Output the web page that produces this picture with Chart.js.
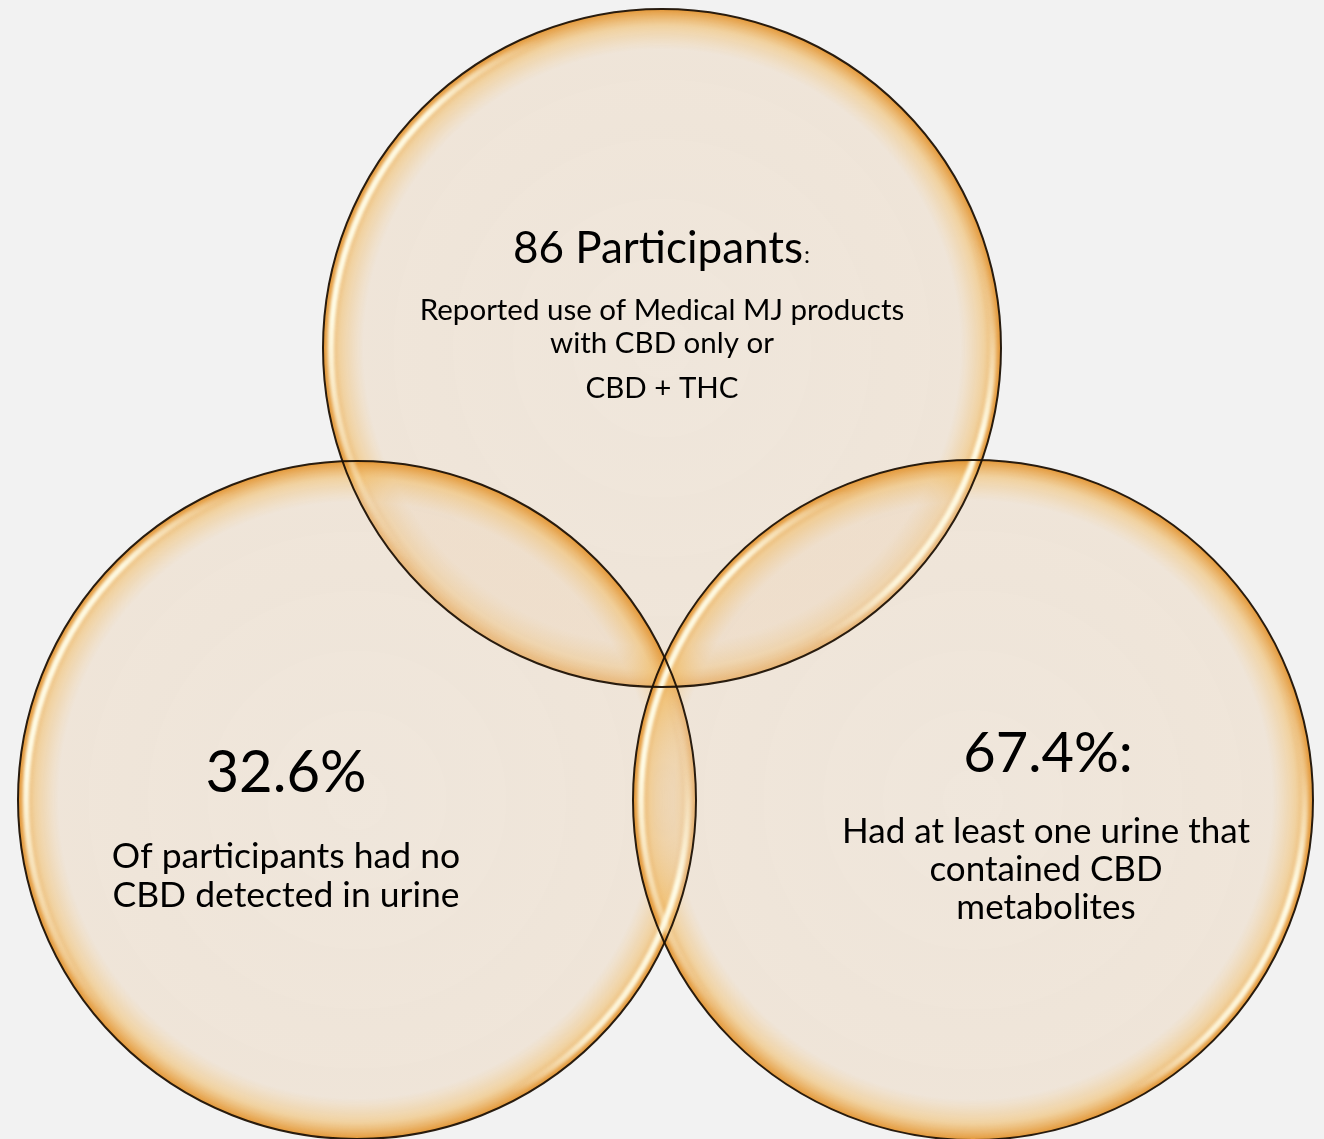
<!DOCTYPE html>
<html>
<head>
<meta charset="utf-8">
<title>CBD in urine</title>
<script src="https://cdn.jsdelivr.net/npm/chart.js@4"></script>
<style>
  html, body { margin: 0; padding: 0; background: #f2f2f2; }
  #wrap { width: 1324px; height: 1139px; position: relative; }
</style>
</head>
<body>
<div id="wrap"><canvas id="venn"></canvas></div>
<script>
// three sets, centres and radii in plot units (x 0..1324, y 0..1139 top-down)
const groups = ['Participants', 'No CBD detected', 'CBD metabolites'];
const centerX = [662, 357, 973];
const centerY = [348, 800, 800];
const radius = [339, 339, 340];

const participants = 86;
const percents = [32.6, 67.4];

const headings = [participants + ' Participants', percents[0] + '%', percents[1] + '%:'];
const notes = [
  ['Reported use of Medical MJ products', 'with CBD only or', 'CBD + THC'],
  ['Of participants had no', 'CBD detected in urine'],
  ['Had at least one urine that', 'contained CBD', 'metabolites']
];

const FONT = 'Lato, "Open Sans", sans-serif';
const BODY = 'rgba(236,216,192,0.45)';

function pxRadius(chart, r) {
  const sx = chart.scales.x;
  if (!sx) return 0;
  const v = Math.abs(sx.getPixelForValue(r) - sx.getPixelForValue(0));
  return Number.isFinite(v) ? v : 0;
}

// pale body with an orange glow towards the rim
function rimFill(c) {
  const chart = c.chart;
  const sx = chart.scales.x, sy = chart.scales.y;
  if (!sx || !sy || c.dataIndex === undefined) return BODY;
  const i = c.dataIndex;
  const px = sx.getPixelForValue(centerX[i]);
  const py = sy.getPixelForValue(centerY[i]);
  const r = pxRadius(chart, radius[i]);
  if (!Number.isFinite(px) || !Number.isFinite(py) || !(r > 0)) return BODY;
  const g = chart.ctx.createRadialGradient(px, py, 0, px, py, r);
  g.addColorStop(0, 'rgba(236,216,192,0.45)');
  g.addColorStop(0.88, 'rgba(236,214,188,0.47)');
  g.addColorStop(0.95, 'rgba(240,190,110,0.62)');
  g.addColorStop(1, 'rgba(226,146,46,0.95)');
  return g;
}

// glossy streaks, rim outlines and labels on top of the circles
const decorate = {
  id: 'decorate',
  afterDatasetsDraw(chart) {
    const ctx = chart.ctx;
    const pts = chart.getDatasetMeta(0).data;
    const deg = Math.PI / 180;

    pts.forEach(p => {
      const r = p.options.radius;
      if (!(r > 10)) return;
      const g = ctx.createConicGradient(-20 * deg, p.x, p.y);
      const stop = (a, al) => g.addColorStop((a + 20) / 360, 'rgba(255,253,232,' + al + ')');
      stop(-20, 0); stop(-5, 0.2); stop(15, 1); stop(45, 0.85); stop(62, 0);
      stop(140, 0); stop(185, 1); stop(225, 0.95); stop(248, 0); stop(340, 0);
      ctx.save();
      ctx.filter = 'blur(1.5px)';
      ctx.strokeStyle = g;
      ctx.lineWidth = 6;
      ctx.beginPath();
      ctx.arc(p.x, p.y, r - 8, 0, Math.PI * 2);
      ctx.stroke();
      ctx.restore();
    });

    pts.forEach(p => {
      const r = p.options.radius;
      if (!(r > 0)) return;
      ctx.save();
      ctx.strokeStyle = 'rgba(30,18,6,0.95)';
      ctx.lineWidth = 2;
      ctx.beginPath();
      ctx.arc(p.x, p.y, r, 0, Math.PI * 2);
      ctx.stroke();
      ctx.restore();
    });

    ctx.save();
    ctx.fillStyle = '#000';
    ctx.textAlign = 'center';
    ctx.textBaseline = 'alphabetic';

    // top circle
    let p = pts[0];
    ctx.font = '44px ' + FONT;
    const w = ctx.measureText(headings[0]).width;
    ctx.fillText(headings[0], p.x - 4, p.y - 85);
    ctx.font = '24px ' + FONT;
    ctx.textAlign = 'left';
    ctx.fillText(':', p.x - 4 + w / 2 + 1, p.y - 85);
    ctx.textAlign = 'center';
    ctx.font = '29.5px ' + FONT;
    [-28, 5, 50].forEach((dy, k) => ctx.fillText(notes[0][k], p.x, p.y + dy));

    // left circle
    p = pts[1];
    ctx.font = '58px ' + FONT;
    ctx.fillText(headings[1], p.x - 71, p.y - 8);
    ctx.font = '35.5px ' + FONT;
    [68, 107].forEach((dy, k) => ctx.fillText(notes[1][k], p.x - 71, p.y + dy));

    // right circle
    p = pts[2];
    ctx.font = '56px ' + FONT;
    ctx.fillText(headings[2], p.x + 75, p.y - 28);
    ctx.font = '35px ' + FONT;
    [43, 81, 119].forEach((dy, k) => ctx.fillText(notes[2][k], p.x + 73, p.y + dy));
    ctx.restore();
  }
};

new Chart(document.getElementById('venn'), {
  type: 'scatter',
  data: {
    labels: groups,
    datasets: [{
      data: centerX.map((x, i) => ({ x: x, y: centerY[i] })),
      showLine: false,
      pointRadius: c => pxRadius(c.chart, radius[c.dataIndex]),
      pointHoverRadius: c => pxRadius(c.chart, radius[c.dataIndex]),
      pointBackgroundColor: rimFill,
      pointBorderWidth: 0,
      clip: false
    }]
  },
  options: {
    responsive: true,
    maintainAspectRatio: false,
    animation: false,
    events: [],
    layout: { padding: 0, autoPadding: false },
    plugins: { legend: { display: false }, tooltip: { enabled: false } },
    scales: {
      x: { type: 'linear', min: 0, max: 1324, display: false },
      y: { type: 'linear', min: 0, max: 1139, reverse: true, display: false }
    }
  },
  plugins: [decorate]
});
</script>
</body>
</html>
